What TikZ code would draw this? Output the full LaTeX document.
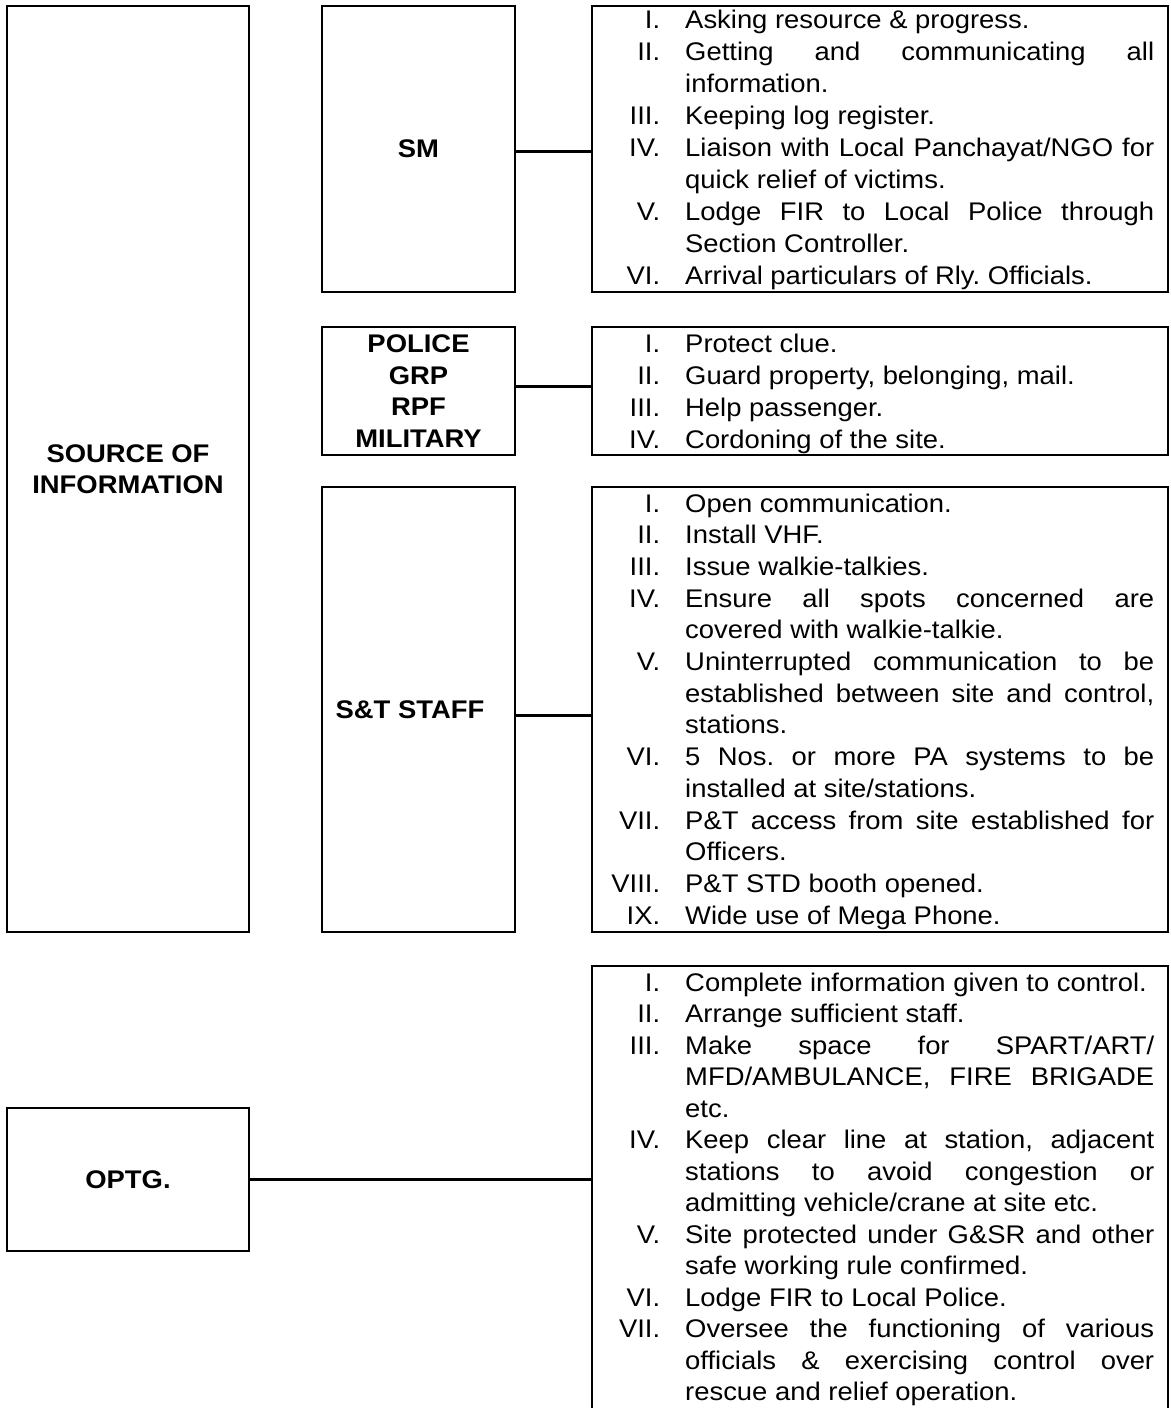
\documentclass[tikz,border=0pt]{standalone}
\usepackage{fontspec}
\setmainfont{Liberation Sans}[FakeStretch=1.075]
\newcommand\itm[1]{\par\noindent\llap{#1\hspace{25pt}}}
\newcommand\lsttext[1]{\parbox[t]{469pt}{\frenchspacing\tolerance=10000 \hyphenpenalty=10000 \exhyphenpenalty=10000 \parindent=0pt #1}}
\begin{document}
\begin{tikzpicture}[x=1pt,y=-1pt,
  box/.style={draw=black, line width=1.1pt, inner sep=0pt, font=\bfseries\fontsize{25.5}{31.5}\selectfont, align=center},
  conn/.style={draw=black, line width=3pt},
  lst/.style={anchor=base west, inner sep=0pt, font=\fontsize{25.5}{#1}\selectfont},
  lst/.default=32]
\useasboundingbox (0,0) rectangle (1170,1408);

% left column
\node[box, minimum width=242pt, minimum height=926pt] (src) at (128,469) {SOURCE OF\\INFORMATION};
\node[box, minimum width=242pt, minimum height=143pt] (optg) at (128,1179.5) {OPTG.};

% middle column
\node[box, minimum width=193pt, minimum height=286pt] (sm) at (418.5,149) {SM};
\node[box, minimum width=193pt, minimum height=128pt] (pol) at (418.5,391) {POLICE\\GRP\\RPF\\MILITARY};
\node[box, minimum width=193pt, minimum height=445pt] (st) at (418.5,709.5) {S\&T STAFF\hspace*{17pt}};

% right column boxes
\node[box, minimum width=576pt, minimum height=286pt] (smL) at (880,149) {};
\node[box, minimum width=576pt, minimum height=128pt] (polL) at (880,391) {};
\node[box, minimum width=576pt, minimum height=445pt] (stL) at (880,709.5) {};
\node[box, minimum width=576pt, minimum height=464pt] (optgL) at (880,1198) {};

% connectors
\draw[conn] ([yshift=-2.7pt]sm.east) -- ([yshift=-2.7pt]smL.west);
\draw[conn] ([yshift=5pt]pol.east) -- ([yshift=5pt]polL.west);
\draw[conn] ([yshift=-5.5pt]st.east) -- ([yshift=-5.5pt]stL.west);
\draw[conn] (optg.east) -- (optgL.west |- optg.east);

% lists
\node[lst] (smT) at (685,28.5) {\lsttext{%
\itm{I.}Asking resource \& progress.
\itm{II.}Getting and communicating all\linebreak information.
\itm{III.}Keeping log register.
\itm{IV.}Liaison with Local Panchayat/NGO for\linebreak quick relief of victims.
\itm{V.}Lodge FIR to Local Police through\linebreak Section Controller.
\itm{VI.}Arrival particulars of Rly. Officials.}};

\node[lst] (polT) at (685,352.7) {\lsttext{%
\itm{I.}Protect clue.
\itm{II.}Guard property, belonging, mail.
\itm{III.}Help passenger.
\itm{IV.}Cordoning of the site.}};

\node[lst=31.7] (stT) at (685,512) {\lsttext{%
\itm{I.}Open communication.
\itm{II.}Install VHF.
\itm{III.}Issue walkie-talkies.
\itm{IV.}Ensure all spots concerned are\linebreak covered with walkie-talkie.
\itm{V.}Uninterrupted communication to be\linebreak established between site and control,\linebreak stations.
\itm{VI.}5 Nos. or more PA systems to be\linebreak installed at site/stations.
\itm{VII.}P\&T access from site established for\linebreak Officers.
\itm{VIII.}P\&T STD booth opened.
\itm{IX.}Wide use of Mega Phone.}};

\node[lst=31.5] (optgT) at (685,991) {\lsttext{%
\itm{I.}Complete information given to control.
\itm{II.}Arrange sufficient staff.
\itm{III.}Make space for SPART/ART/\linebreak MFD/AMBULANCE, FIRE BRIGADE\linebreak etc.
\itm{IV.}Keep clear line at station, adjacent\linebreak stations to avoid congestion or\linebreak admitting vehicle/crane at site etc.
\itm{V.}Site protected under G\&SR and other\linebreak safe working rule confirmed.
\itm{VI.}Lodge FIR to Local Police.
\itm{VII.}Oversee the functioning of various\linebreak officials \& exercising control over\linebreak rescue and relief operation.}};
\end{tikzpicture}
\end{document}
